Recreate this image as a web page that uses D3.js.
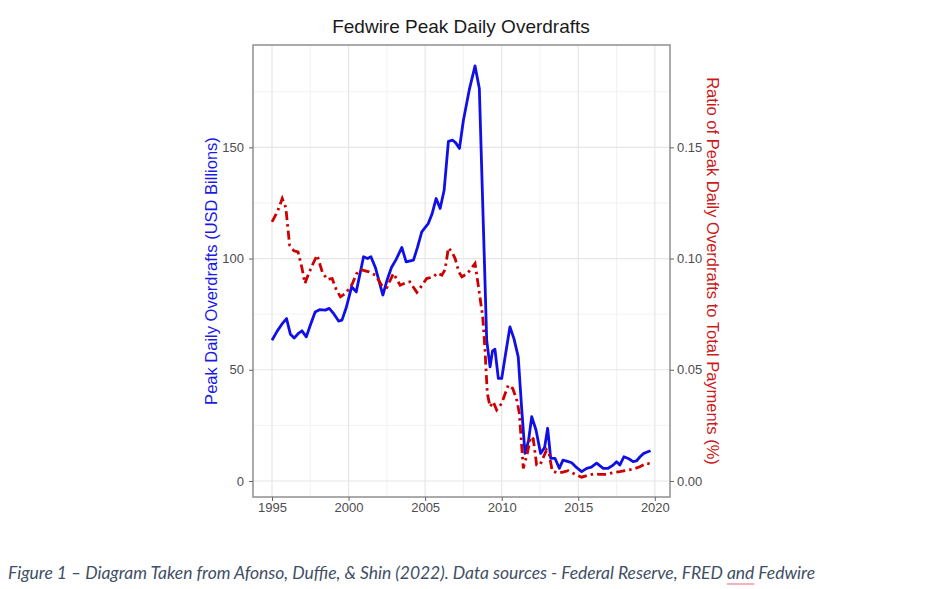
<!DOCTYPE html>
<html>
<head>
<meta charset="utf-8">
<script src="https://cdn.jsdelivr.net/npm/d3@7"></script>
<style>
  body { margin: 0; background: #fff; }
  svg { display: block; }
  .tick text { font-family: "Liberation Sans", Arial, sans-serif; font-size: 13px; fill: #4d4d4d; }
  .tick line { stroke: #666; }
</style>
</head>
<body>
<script>
// peak daily overdrafts, USD billions
var overdraftYears = [1995.0, 1995.35, 1995.7, 1995.95, 1996.2, 1996.45, 1996.75, 1996.96, 1997.24, 1997.5,
  1997.82, 1998.1, 1998.48, 1998.74, 1999.0, 1999.35, 1999.57, 1999.85, 2000.2, 2000.5,
  2000.98, 2001.24, 2001.46, 2001.75, 2002.24, 2002.5, 2002.8, 2003.1, 2003.48, 2003.76,
  2004.24, 2004.5, 2004.78, 2005.2, 2005.45, 2005.72, 2005.98, 2006.24, 2006.52, 2006.8,
  2007.0, 2007.24, 2007.5, 2007.9, 2008.26, 2008.54, 2008.85, 2009.02, 2009.24, 2009.4,
  2009.56, 2009.78, 2010.0, 2010.25, 2010.54, 2010.8, 2011.08, 2011.3, 2011.52, 2011.75,
  2011.96, 2012.24, 2012.54, 2012.8, 2013.0, 2013.2, 2013.48, 2013.76, 2014.0, 2014.3,
  2014.57, 2014.9, 2015.22, 2015.55, 2015.85, 2016.2, 2016.63, 2016.95, 2017.25, 2017.5,
  2017.72, 2017.98, 2018.3, 2018.58, 2018.8, 2019.05, 2019.28, 2019.5, 2019.72];
var overdraftValues = [63.3, 67.5, 71, 73, 66, 64.3, 66.5, 67.5, 64.8, 70,
  76, 77, 76.8, 77.6, 75.5, 71.9, 72.3, 78, 87.3, 85,
  100.8, 100, 100.8, 96, 83.6, 90, 96, 99.5, 105, 98.5,
  99.3, 105, 112, 115.7, 120, 127, 122.5, 130.7, 152.7, 153.2,
  152, 149.5, 162.2, 176.4, 186.6, 176.4, 103.8, 63.3, 51.3, 58.5,
  59.2, 46.1, 46.1, 57, 69.3, 64, 55.8, 33, 12.4, 18,
  28.9, 22.9, 12.4, 15, 23.7, 10.2, 10.2, 5.7, 9.4, 8.8,
  8.2, 6, 4.2, 5.7, 6.2, 8.0, 5.7, 5.7, 7, 8.7,
  7.2, 10.9, 10, 8.7, 9.0, 11, 12.4, 13, 13.6];

// ratio of peak daily overdrafts to total payments, %
var ratioYears = [1995.0, 1995.35, 1995.67, 1995.9, 1996.15, 1996.43, 1996.7, 1996.95, 1997.15, 1997.4,
  1997.7, 1997.95, 1998.28, 1998.6, 1998.93, 1999.2, 1999.47, 1999.8, 2000.24, 2000.5,
  2000.78, 2001.33, 2001.76, 2002.2, 2002.5, 2002.93, 2003.37, 2003.7, 2004.0, 2004.46,
  2004.8, 2005.1, 2005.54, 2005.8, 2006.09, 2006.3, 2006.52, 2006.75, 2006.96, 2007.2,
  2007.4, 2007.76, 2008.26, 2008.48, 2008.76, 2008.91, 2009.06, 2009.24, 2009.45, 2009.67,
  2010.0, 2010.43, 2010.72, 2011.0, 2011.15, 2011.41, 2011.67, 2011.9, 2012.06, 2012.28,
  2012.5, 2012.93, 2013.1, 2013.3, 2013.69, 2014.0, 2014.34, 2014.8, 2015.22, 2015.6,
  2015.97, 2016.4, 2016.84, 2017.3, 2017.7, 2018.2, 2018.58, 2019.02, 2019.46, 2019.72];
var ratioValues = [0.1165, 0.121, 0.127, 0.123, 0.106, 0.1035, 0.103, 0.096, 0.0888, 0.0933,
  0.098, 0.1015, 0.094, 0.0906, 0.091, 0.086, 0.0828, 0.0843, 0.0885, 0.093,
  0.095, 0.094, 0.0925, 0.0876, 0.087, 0.0933, 0.088, 0.089, 0.0895, 0.0848,
  0.088, 0.091, 0.0918, 0.0935, 0.0925, 0.095, 0.1048, 0.103, 0.100, 0.094,
  0.0918, 0.0933, 0.0978, 0.0875, 0.0738, 0.0588, 0.0394, 0.0334, 0.0356, 0.0319,
  0.0349, 0.0431, 0.0416, 0.036, 0.0304, 0.0057, 0.0124, 0.0199, 0.0190, 0.0072,
  0.0072, 0.0139, 0.012, 0.0045, 0.0035, 0.004, 0.0046, 0.003, 0.0017, 0.0025,
  0.0031, 0.003, 0.003, 0.0038, 0.0042, 0.0048, 0.0053, 0.0064, 0.008, 0.0076];

var xTicks = [1995, 2000, 2005, 2010, 2015, 2020],
    xMinor = [1997.5, 2002.5, 2007.5, 2012.5, 2017.5],
    yTicks = [0, 50, 100, 150],
    yMinor = [25, 75, 125, 175],
    y2Ticks = [0, 0.05, 0.10, 0.15];

var width = 943,
    height = 589,
    pLeft = 253, pRight = 670, pTop = 45, pBottom = 497;

var xSc = d3.scaleLinear().domain([1993.76, 2020.99]).range([pLeft, pRight]),
    ySc = d3.scaleLinear().domain([-7.2, 196]).range([pBottom, pTop]),
    y2Sc = d3.scaleLinear().domain([-0.0072, 0.196]).range([pBottom, pTop]);

var svg = d3.select("body").append("svg")
  .attr("width", width)
  .attr("height", height);

svg.append("rect").attr("width", width).attr("height", height).attr("fill", "#fff");

// grid
var grid = svg.append("g");
grid.selectAll("line.xmin").data(xMinor).enter().append("line")
  .attr("x1", function(d) { return xSc(d); }).attr("x2", function(d) { return xSc(d); })
  .attr("y1", pTop).attr("y2", pBottom)
  .style("stroke", "#f0f0f0").style("stroke-width", 0.9);
grid.selectAll("line.ymin").data(yMinor).enter().append("line")
  .attr("y1", function(d) { return ySc(d); }).attr("y2", function(d) { return ySc(d); })
  .attr("x1", pLeft).attr("x2", pRight)
  .style("stroke", "#f0f0f0").style("stroke-width", 0.9);
grid.selectAll("line.xmaj").data(xTicks).enter().append("line")
  .attr("x1", function(d) { return xSc(d); }).attr("x2", function(d) { return xSc(d); })
  .attr("y1", pTop).attr("y2", pBottom)
  .style("stroke", "#e6e6e6").style("stroke-width", 1.2);
grid.selectAll("line.ymaj").data(yTicks).enter().append("line")
  .attr("y1", function(d) { return ySc(d); }).attr("y2", function(d) { return ySc(d); })
  .attr("x1", pLeft).attr("x2", pRight)
  .style("stroke", "#e6e6e6").style("stroke-width", 1.2);

// lines
var blueLine = d3.line()
  .x(function(d, i) { return xSc(overdraftYears[i]); })
  .y(function(d) { return ySc(d); });
var redLine = d3.line()
  .x(function(d, i) { return xSc(ratioYears[i]); })
  .y(function(d) { return y2Sc(d); });

svg.append("path")
  .attr("d", blueLine(overdraftValues))
  .style("fill", "none")
  .style("stroke", "#1010e6")
  .style("stroke-width", 2.8)
  .style("stroke-linejoin", "round");

svg.append("path")
  .attr("d", redLine(ratioValues))
  .style("fill", "none")
  .style("stroke", "#cc0000")
  .style("stroke-width", 2.8)
  .style("stroke-dasharray", "9,4,2.5,4");

// panel border
svg.append("rect")
  .attr("x", pLeft).attr("y", pTop)
  .attr("width", pRight - pLeft).attr("height", pBottom - pTop)
  .style("fill", "none")
  .style("stroke", "#8f8f8f")
  .style("stroke-width", 1.5);

// axes
var xAxis = d3.axisBottom(xSc).tickValues(xTicks).tickSize(4).tickPadding(2).tickFormat(d3.format("d"));
var yAxis = d3.axisLeft(ySc).tickValues(yTicks).tickSize(4).tickPadding(5);
var y2Axis = d3.axisRight(y2Sc).tickValues(y2Ticks).tickSize(4).tickPadding(3).tickFormat(d3.format(".2f"));

svg.append("g").attr("transform", "translate(0," + pBottom + ")").call(xAxis)
  .call(function(g) { g.select(".domain").remove(); });
svg.append("g").attr("transform", "translate(" + pLeft + ",0)").call(yAxis)
  .call(function(g) { g.select(".domain").remove(); });
svg.append("g").attr("transform", "translate(" + pRight + ",0)").call(y2Axis)
  .call(function(g) { g.select(".domain").remove(); });

// titles
svg.append("text")
  .attr("x", 461).attr("y", 33)
  .attr("text-anchor", "middle")
  .style("font-family", "Liberation Sans, Arial, sans-serif")
  .style("font-size", "19px")
  .style("fill", "#1a1a1a")
  .text("Fedwire Peak Daily Overdrafts");

svg.append("text")
  .attr("transform", "translate(211," + ((pTop + pBottom) / 2) + ") rotate(-90)")
  .attr("text-anchor", "middle")
  .attr("dy", "0.35em")
  .style("font-family", "Liberation Sans, Arial, sans-serif")
  .style("font-size", "16.5px")
  .style("fill", "#1a1ae6")
  .text("Peak Daily Overdrafts (USD Billions)");

svg.append("text")
  .attr("transform", "translate(713," + ((pTop + pBottom) / 2) + ") rotate(90)")
  .attr("text-anchor", "middle")
  .attr("dy", "0.35em")
  .style("font-family", "Liberation Sans, Arial, sans-serif")
  .style("font-size", "16.5px")
  .style("fill", "#cc1a1a")
  .text("Ratio of Peak Daily Overdrafts to Total Payments (%)");

// caption
var captionText = "Figure 1 \u2013 Diagram Taken from Afonso, Duffie, & Shin (2022). Data sources - Federal Reserve, FRED and Fedwire";
var caption = svg.append("text")
  .attr("x", 8).attr("y", 579)
  .attr("textLength", 807)
  .attr("lengthAdjust", "spacing")
  .style("font-family", "Lato, Open Sans, sans-serif")
  .style("font-style", "italic")
  .style("font-size", "17.5px")
  .style("fill", "#3f4f66")
  .text(captionText);

// spell-check squiggle under "and"
var idx = captionText.indexOf(" and ") + 1;
var node = caption.node();
var x0 = node.getStartPositionOfChar(idx).x,
    x1 = node.getEndPositionOfChar(idx + 2).x;
svg.append("line")
  .attr("x1", x0).attr("x2", x1)
  .attr("y1", 584).attr("y2", 584)
  .style("stroke", "#e58a9a")
  .style("stroke-width", 1.3);
</script>
</body>
</html>
